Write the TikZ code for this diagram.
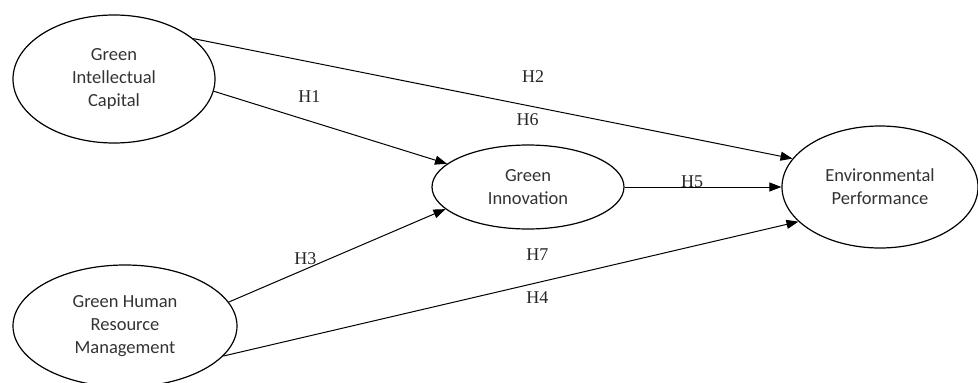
\documentclass[tikz,border=0pt]{standalone}
\usepackage{fontspec}
\setmainfont{Carlito}
\newfontfamily\hypfont{Liberation Serif}
\usetikzlibrary{arrows.meta,shapes.geometric}

\begin{document}
\begin{tikzpicture}[x=1pt,y=-1pt,>={Triangle[length=12pt,width=9pt]},
  construct/.style={draw,ellipse,line width=1.2pt,inner sep=0pt,align=center,
    text=black!80,font=\fontsize{18.5}{23}\selectfont},
  hyp/.style={font=\hypfont\fontsize{18}{20}\selectfont,text=black!85}]
  \useasboundingbox (0,0) rectangle (978,383);
  \node[construct,minimum width=202pt,minimum height=128pt] (gic) at (114,79) {Green\\
  Intellectual\\
  Capital};
  \node[construct,minimum width=224pt,minimum height=122pt] (ghrm) at (125,326) {Green Human\\
  Resource\\
  Management};
  \node[construct,minimum width=192pt,minimum height=84pt] (gi) at (528,187) {Green\\
  Innovation};
  \node[construct,minimum width=196pt,minimum height=122pt] (ep) at (880,187) {Environmental\\
  Performance};
  \draw[->,line width=1pt] (gic.27) -- node[hyp,pos=0.567,yshift=30pt] {H2}
    node[hyp,pos=0.558,yshift=-14pt] {H6} (ep.162);
  \draw[->,line width=1pt] (gic.-7) -- node[hyp,pos=0.41,yshift=24pt] {H1} (gi.164);
  \draw[->,line width=1pt] (ghrm.13) -- node[hyp,pos=0.354,yshift=11pt] {H3} (gi.195);
  \draw[->,line width=1pt] (ghrm.-17) -- node[hyp,pos=0.546,yshift=28pt] {H7}
    node[hyp,pos=0.546,yshift=-15pt] {H4} (ep.203);
  \draw[->,line width=1pt] (gi.east) -- node[hyp,pos=0.43,yshift=5pt] {H5} (ep.west);
\end{tikzpicture}
\end{document}
